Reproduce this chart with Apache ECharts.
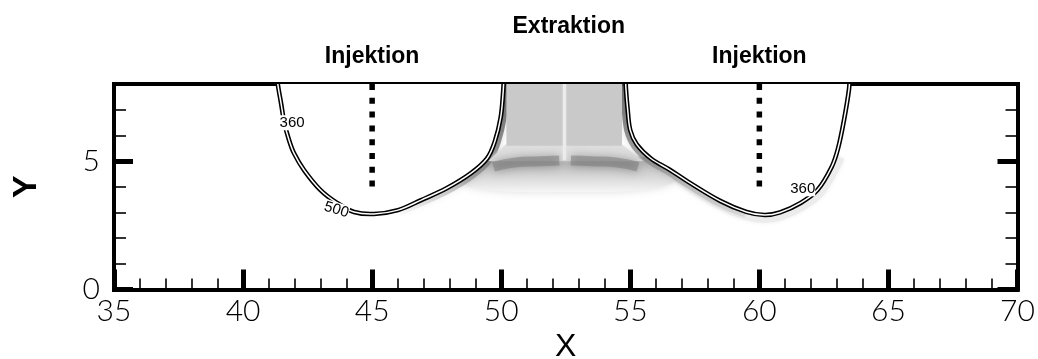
<!DOCTYPE html>
<html>
<head>
<meta charset="utf-8">
<script src="https://cdn.jsdelivr.net/npm/echarts@6/dist/echarts.min.js"></script>
<style>
  html, body { margin: 0; padding: 0; background: #fff; }
  #chart { width: 1038px; height: 359px; }
</style>
</head>
<body>
<div id="chart"></div>
<script>
// ---- Axis ticks ----
const xMajorTicks = [35, 40, 45, 50, 55, 60, 65, 70];
const xMinorTicks = [];
for (let v = 36; v < 70; v++) if (v % 5 !== 0) xMinorTicks.push(v);
const yMajorTicks = [0, 5];
const yMinorTicks = [1, 2, 3, 4, 6, 7];

// ---- Wells ----
const wellNames = ['Injektion', 'Extraktion', 'Injektion'];
const wellX = [45, 52.5, 60];
const injectionX = [45, 60];
const screenTop = 8;
const screenBottom = 4;

// ---- Contour lines around the two injection wells (x, y) ----
const leftContour = [
  [41.32, 8.3], [41.35, 7.96], [41.47, 7.26], [41.6, 6.48], [41.78, 5.82],
  [41.97, 5.31], [42.36, 4.65], [43.0, 3.87], [43.64, 3.37], [44.3, 3.02],
  [45.07, 2.94], [46.0, 3.09], [46.9, 3.48], [47.9, 3.95], [48.83, 4.53],
  [49.45, 5.1], [49.75, 5.75], [49.98, 6.7], [50.08, 7.76], [50.1, 8.3]
];
const rightContour = [
  [54.82, 8.3], [54.83, 7.84], [54.9, 6.99], [55.0, 6.2], [55.25, 5.65],
  [55.8, 5.1], [56.5, 4.68], [57.2, 4.22], [58.5, 3.44], [59.5, 3.02],
  [60.2, 2.9], [60.8, 3.0], [61.6, 3.37], [62.25, 3.87], [62.8, 4.77],
  [63.05, 5.5], [63.28, 6.6], [63.47, 7.77], [63.5, 8.3]
];
const contourLabels = ['360', '500', '360'];
const contourLabelPos = [[41.9, 6.49], [43.62, 3.1], [61.68, 3.92]];
const contourLabelTilt = [0, -0.3, 0];

// ---- Concentration shading between the wells ----
const extractionCore = [[50.2, 8.3], [54.68, 8.3], [54.68, 5.6], [50.2, 5.6]];
const coreFringe = [[50.15, 5.62], [54.7, 5.62], [55.5, 5.0], [49.5, 5.0]];
const plumeFoot = [
  [48.2, 4.5], [49.4, 5.15], [55.6, 5.15], [56.9, 4.45],
  [56.0, 3.95], [52.5, 3.8], [49.0, 3.95]
];
const archLeft = [[49.7, 4.78], [50.5, 4.94], [51.5, 4.99], [52.25, 5.02]];
const archRight = [[52.7, 5.02], [53.5, 4.99], [54.5, 4.94], [55.3, 4.78]];
const divide = [[52.45, 8.3], [52.45, 5.05]];
const leftFlank = [[46.0, 3.09], [46.9, 3.48], [47.9, 3.95], [48.83, 4.53], [49.45, 5.1], [49.75, 5.75], [49.98, 6.7], [50.08, 7.76], [50.1, 8.3]];
const rightFlank = [[54.82, 8.3], [54.83, 7.84], [54.9, 6.99], [55.0, 6.2], [55.25, 5.65], [55.8, 5.1], [56.5, 4.68], [57.2, 4.22], [58.5, 3.44], [59.5, 3.02]];
const rightRim = [[55.8, 5.1], [56.5, 4.68], [57.2, 4.22], [58.5, 3.44], [59.5, 3.02], [60.2, 2.9], [60.8, 3.0], [61.6, 3.37], [62.25, 3.87], [62.8, 4.77], [63.0, 5.2]];

const G = echarts.graphic;

// Generic custom series that draws one path from a list of data points
function pathSeries(name, pts, opts) {
  return {
    type: 'custom',
    name: name,
    silent: true,
    clip: opts.clip !== false,
    xAxisIndex: 0,
    yAxisIndex: 0,
    data: pts,
    encode: { x: 0, y: 1 },
    renderItem: function (params, api) {
      if (params.dataIndex !== 0) return null;
      const points = pts.map(function (p) { return api.coord(p); });
      return {
        type: opts.closed ? 'polygon' : 'polyline',
        shape: { points: points, smooth: opts.smooth || 0 },
        style: Object.assign({ fill: opts.closed ? '#000' : null }, opts.style)
      };
    }
  };
}

function closedLoop(pts) {
  return pts.concat([[pts[pts.length - 1][0], 9], [pts[0][0], 9]]);
}

function textSeries(name, labels, positions, style, dx, dy, clip, tilt) {
  return {
    type: 'custom',
    name: name,
    silent: true,
    clip: clip,
    xAxisIndex: 0,
    yAxisIndex: 0,
    data: positions,
    encode: { x: 0, y: 1 },
    renderItem: function (params, api) {
      const p = api.coord(positions[params.dataIndex]);
      return {
        type: 'text',
        x: p[0] + dx,
        y: p[1] + dy,
        rotation: tilt ? tilt[params.dataIndex] : 0,
        style: Object.assign({ text: labels[params.dataIndex], align: 'center', verticalAlign: 'middle' }, style)
      };
    }
  };
}

const SMOOTH = 0.35;
const tickFont = { color: '#000', fontFamily: 'Lato, "Liberation Sans", sans-serif', fontWeight: 300, fontSize: 30 };
const archStyle = { stroke: 'rgba(125,125,125,0.55)', lineWidth: 10, lineCap: 'butt', shadowBlur: 10, shadowColor: 'rgba(100,100,100,0.9)' };

const series = [
  // light halo around the right plume
  pathSeries('rim', rightRim, { smooth: SMOOTH, style: { stroke: '#ececec', lineWidth: 16, shadowBlur: 4, shadowColor: '#eeeeee' } }),
  // faded foot of the extraction plume
  pathSeries('foot', plumeFoot, { closed: true, smooth: 0.4, style: {
    fill: new G.LinearGradient(0, 0, 0, 1, [
      { offset: 0, color: '#a0a0a0' }, { offset: 0.45, color: '#cbcbcb' }, { offset: 1, color: '#f6f6f6' }
    ]), shadowBlur: 8, shadowColor: '#dddddd' } }),
  // darker flanks just outside the injection contours
  pathSeries('leftFlank', leftFlank, { smooth: SMOOTH, style: {
    stroke: new G.LinearGradient(0, 1, 1, 0, [
      { offset: 0, color: 'rgba(150,150,150,0)' }, { offset: 0.5, color: 'rgba(120,120,120,0.65)' }, { offset: 1, color: 'rgba(80,80,80,0.9)' }
    ]), lineWidth: 12, shadowBlur: 6, shadowColor: 'rgba(0,0,0,0.2)' } }),
  pathSeries('rightFlank', rightFlank, { smooth: SMOOTH, style: {
    stroke: new G.LinearGradient(0, 0, 1, 1, [
      { offset: 0, color: 'rgba(80,80,80,0.9)' }, { offset: 0.45, color: 'rgba(130,130,130,0.6)' }, { offset: 1, color: 'rgba(170,170,170,0.2)' }
    ]), lineWidth: 12, shadowBlur: 6, shadowColor: 'rgba(0,0,0,0.2)' } }),
  // interiors of the injection contours
  pathSeries('leftInside', closedLoop(leftContour), { closed: true, smooth: SMOOTH, style: { fill: '#ffffff' } }),
  pathSeries('rightInside', closedLoop(rightContour), { closed: true, smooth: SMOOTH, style: { fill: '#ffffff' } }),
  // extraction zone
  pathSeries('fringe', coreFringe, { closed: true, style: { fill: '#dedede', shadowBlur: 3, shadowColor: '#dddddd' } }),
  pathSeries('core', extractionCore, { closed: true, style: { fill: '#c9c9c9' } }),
  pathSeries('archL', archLeft, { smooth: 0.5, style: archStyle }),
  pathSeries('archR', archRight, { smooth: 0.5, style: archStyle }),
  pathSeries('divide', divide, { style: { stroke: '#ececec', lineWidth: 3, shadowBlur: 2, shadowColor: '#eeeeee' } }),
  // contour lines (double-line look)
  pathSeries('leftContour', leftContour, { smooth: SMOOTH, style: { stroke: '#000', lineWidth: 4.6, lineJoin: 'round' } }),
  pathSeries('leftContourCore', leftContour, { smooth: SMOOTH, style: { stroke: '#fff', lineWidth: 1.5, lineJoin: 'round' } }),
  pathSeries('rightContour', rightContour, { smooth: SMOOTH, style: { stroke: '#000', lineWidth: 4.6, lineJoin: 'round' } }),
  pathSeries('rightContourCore', rightContour, { smooth: SMOOTH, style: { stroke: '#fff', lineWidth: 1.5, lineJoin: 'round' } }),
  // contour labels
  textSeries('contourLabels', contourLabels, contourLabelPos,
    { fill: '#000', font: '15px "Liberation Sans", Arial, sans-serif', backgroundColor: '#fff' }, 0, 0, true, contourLabelTilt)
];

// well screens
injectionX.forEach(function (x, i) {
  series.push(pathSeries('screen' + i, [[x, screenTop], [x, screenBottom]], {
    style: { stroke: '#000', lineWidth: 5.5, lineDash: [6, 7.8], lineCap: 'butt' }
  }));
});

// well names above the frame
series.push(textSeries('wellNamesInj', [wellNames[0], wellNames[2]], [[wellX[0], screenTop], [wellX[2], screenTop]],
  { fill: '#000', font: 'bold 23px "Liberation Sans", Arial, sans-serif' }, 0, -27, false));
series.push(textSeries('wellNamesExt', [wellNames[1]], [[wellX[1], screenTop]],
  { fill: '#000', font: 'bold 23px "Liberation Sans", Arial, sans-serif' }, 3, -57, false));

const frameLine = { show: true, onZero: false, lineStyle: { color: '#000', width: 4, cap: 'square' } };
const noLine = { show: false };

function xAx(pos, ticks, len, w, labels, extra) {
  return Object.assign({
    type: 'value', min: 35, max: 70, position: pos,
    axisLine: labels || pos === 'top' ? frameLine : noLine,
    axisTick: ticks ? { show: true, inside: true, length: len, customValues: ticks, lineStyle: { color: '#000', width: w } } : { show: false },
    axisLabel: labels ? Object.assign({ show: true, customValues: ticks, margin: 7 }, tickFont) : { show: false },
    splitLine: { show: false }
  }, extra || {});
}
function yAx(pos, ticks, len, w, labels, main, extra) {
  return Object.assign({
    type: 'value', min: 0, max: 8, position: pos,
    axisLine: main ? frameLine : noLine,
    axisTick: { show: true, inside: true, length: len, customValues: ticks, lineStyle: { color: '#000', width: w } },
    axisLabel: labels ? Object.assign({ show: true, customValues: ticks, margin: 14 }, tickFont) : { show: false },
    splitLine: { show: false }
  }, extra || {});
}

const chart = echarts.init(document.getElementById('chart'), null, { renderer: 'canvas' });
chart.setOption({
  animation: false,
  backgroundColor: '#fff',
  grid: { left: 114, right: 20.5, top: 84, bottom: 69.5, containLabel: false, outerBoundsMode: 'none' },
  xAxis: [
    xAx('bottom', xMajorTicks, 20, 5, true, {
      name: 'X', nameLocation: 'middle', nameGap: 34,
      nameTextStyle: { color: '#000', fontSize: 32, fontFamily: '"Liberation Sans", Arial, sans-serif' }
    }),
    xAx('bottom', xMinorTicks, 11, 1.6, false),
    xAx('top', null, 0, 0, false)
  ],
  yAxis: [
    yAx('left', yMajorTicks, 19, 5, true, true, {
      name: 'Y', nameLocation: 'middle', nameGap: 70,
      nameTextStyle: { color: '#000', fontSize: 34, fontWeight: 'bold', fontFamily: '"Liberation Sans", Arial, sans-serif' }
    }),
    yAx('left', yMinorTicks, 12, 1.6, false, false),
    yAx('right', yMajorTicks, 20, 5, false, true),
    yAx('right', yMinorTicks, 12, 1.6, false, false)
  ],
  series: series
});
</script>
</body>
</html>
